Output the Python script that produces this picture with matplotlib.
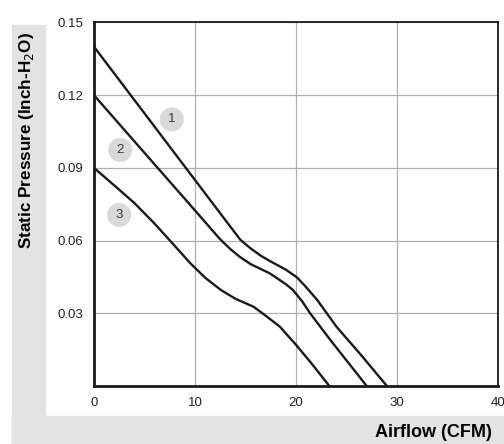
import matplotlib
matplotlib.use('Agg')
import matplotlib.pyplot as plt
from matplotlib.patches import Rectangle

plt.rcParams['font.family'] = ['Liberation Sans', 'DejaVu Sans']

# Fan performance curves
curve1_x = [0, 5, 10, 13, 14.5, 15.5, 16.5, 17.4, 19, 20.1, 21, 22.1, 24, 26.5, 29]
curve1_y = [0.14, 0.1125, 0.085, 0.0685, 0.0603, 0.0568, 0.0538, 0.0516, 0.048, 0.0448, 0.0408, 0.0355, 0.0245, 0.0125, 0]
curve2_x = [0, 5, 9, 12.5, 13.5, 14.4, 15.5, 17.4, 19, 19.7, 20.6, 21.4, 23.4, 27]
curve2_y = [0.12, 0.0962, 0.0772, 0.0605, 0.0565, 0.0534, 0.0503, 0.0465, 0.042, 0.0396, 0.035, 0.030, 0.019, 0]
curve3_x = [0, 2, 4, 6, 8, 9.5, 11, 12.57, 14, 15.8, 17, 18.4, 20, 21.5, 23.3]
curve3_y = [0.09, 0.0828, 0.0755, 0.067, 0.0578, 0.0508, 0.0447, 0.0396, 0.036, 0.0327, 0.029, 0.0245, 0.017, 0.0095, 0]

label_names = ['1', '2', '3']
label_x = [7.7, 2.6, 2.5]
label_y = [0.110, 0.0974, 0.0706]

x_ticks = [0, 10, 20, 30, 40]
y_ticks = [0.03, 0.06, 0.09, 0.12, 0.15]

fig = plt.figure(figsize=(5.04, 4.44), dpi=100)
fig.patch.set_facecolor('white')

# gray L-shaped band behind the labels
gray = '#e3e3e3'
fig.patches.append(Rectangle((12 / 504, 0), 33 / 504, (444 - 25) / 444,
                             transform=fig.transFigure, color=gray, zorder=0))
fig.patches.append(Rectangle((12 / 504, 0), 492 / 504, 28 / 444,
                             transform=fig.transFigure, color=gray, zorder=0))

ax = fig.add_axes([94 / 504, 1 - 386 / 444, 404 / 504, 363.5 / 444])
ax.set_xlim(0, 40)
ax.set_ylim(0, 0.15)

for xs, ys in [(curve1_x, curve1_y), (curve2_x, curve2_y), (curve3_x, curve3_y)]:
    ax.plot(xs, ys, color='#1a1a1a', lw=1.7, solid_joinstyle='round', zorder=3)

for name, lx, ly in zip(label_names, label_x, label_y):
    ax.scatter([lx], [ly], s=300, color='#d9d9d9', edgecolors='none', zorder=4)
    ax.text(lx, ly, name, ha='center', va='center', fontsize=9.5, color='#3a3a3a', zorder=5)

ax.set_xticks(x_ticks)
ax.set_yticks(y_ticks)
ax.set_xticklabels([str(t) for t in x_ticks])
ax.set_yticklabels(['%.2f' % t for t in y_ticks])
ax.tick_params(length=0, labelsize=9.5, colors='#222222')
ax.tick_params(axis='x', pad=8)
ax.tick_params(axis='y', pad=8)
ax.grid(True, color='#b0b0b0', lw=0.9)
ax.set_axisbelow(True)

for side in ['left', 'bottom']:
    ax.spines[side].set_linewidth(2.0)
for side in ['top', 'right']:
    ax.spines[side].set_linewidth(1.3)
for s in ax.spines.values():
    s.set_color('#1a1a1a')

fig.text(27 / 504, 1 - 141 / 444, 'Static Pressure (Inch-H$_2$O)', rotation=90,
         ha='center', va='center', fontsize=12.3, fontweight='bold')
fig.text(492 / 504, 1 - 432 / 444, 'Airflow (CFM)', ha='right', va='center',
         fontsize=13, fontweight='bold')

fig.savefig('out.png', dpi=100)
